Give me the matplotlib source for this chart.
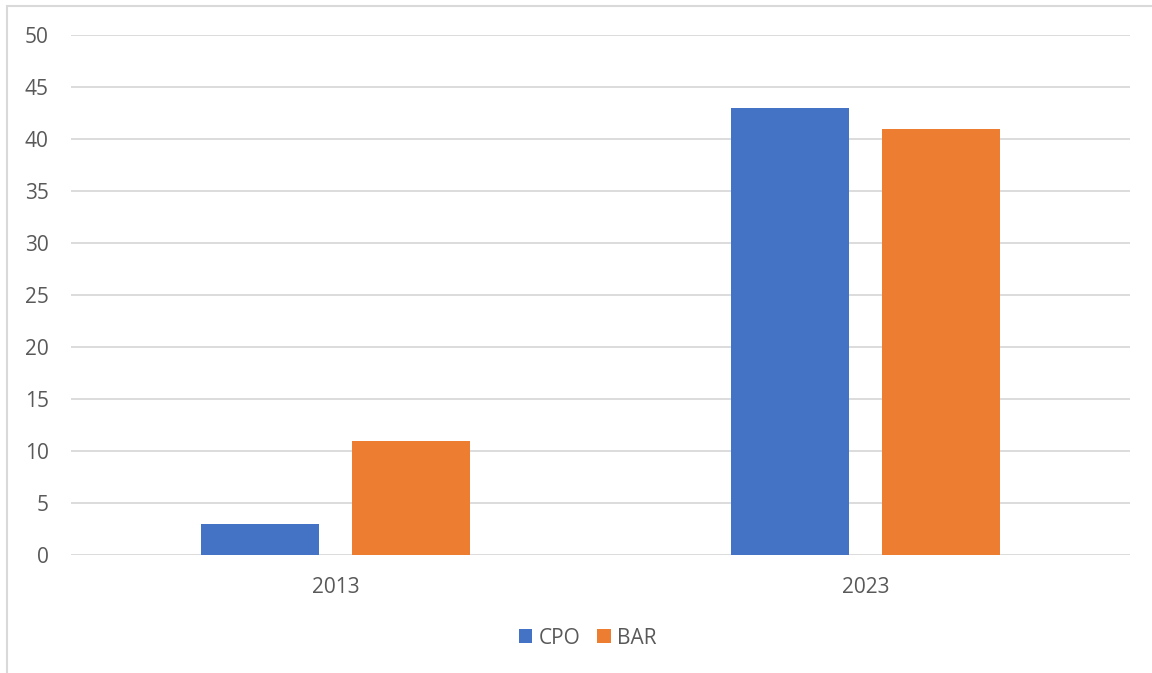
import matplotlib
matplotlib.use("Agg")
import matplotlib.pyplot as plt
import numpy as np
from matplotlib.patches import Rectangle

years = ["2013", "2023"]
cpo = [3, 43]
bar = [11, 41]
series_names = ["CPO", "BAR"]
BLUE, ORANGE, GRID, TXT = "#4472C4", "#ED7D31", "#D9D9D9", "#595959"

plt.rcParams["font.family"] = ["Open Sans", "DejaVu Sans"]

fig = plt.figure(figsize=(11.52, 6.73), dpi=100)
ax = fig.add_axes([0.0616, 0.1753, 0.9194, 0.7727])

x = np.arange(len(years))
w = 0.223
ax.bar(x - 0.1425, cpo, w, color=BLUE, label=series_names[0], zorder=3)
ax.bar(x + 0.1425, bar, w, color=ORANGE, label=series_names[1], zorder=3)

ax.set_xlim(-0.5, 1.5)
ax.set_ylim(0, 50)
ax.set_yticks(range(0, 51, 5))
ax.set_xticks(x)
ax.set_xticklabels(years)
ax.grid(axis="y", color=GRID, linewidth=1.3, zorder=0)
for s in ax.spines.values():
    s.set_visible(False)
ax.tick_params(axis="both", length=0, labelsize=15, colors=TXT, pad=16)

fig.legend(loc="center", bbox_to_anchor=(0.51, 0.052), ncol=2, frameon=False,
           fontsize=15, labelcolor=TXT, handlelength=0.65, handleheight=0.65,
           handletextpad=0.3, columnspacing=0.8)

fig.patches.append(Rectangle((7 / 1152, -0.1), 1.2, 1 - 6 / 673 + 0.1,
                             transform=fig.transFigure, fill=False,
                             edgecolor=GRID, linewidth=1.5))

fig.savefig("out.png", dpi=100)
